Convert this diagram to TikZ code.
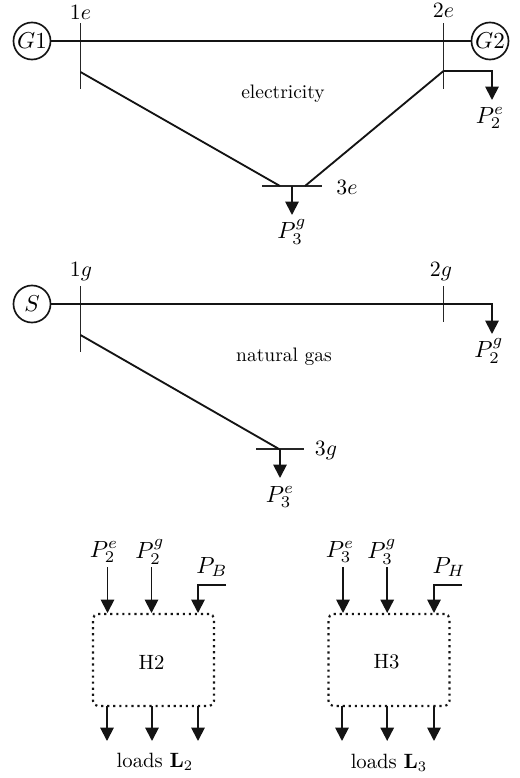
\documentclass[tikz,border=0pt]{standalone}
\usetikzlibrary{arrows.meta}
\tikzset{
  line/.style={line width=0.95pt,draw=black!92},
  busbar/.style={line width=0.9pt,draw=black!85},
  flow/.style={line width=0.95pt,draw=black!92,-{Triangle[width=6.8pt,length=6.8pt]}},
  src/.style={circle,draw=black!92,line width=0.85pt,minimum size=19pt,inner sep=0pt},
  srctext/.style={inner sep=0pt,scale=1.18},
  hub/.style={draw=black!92,line width=1.1pt,dotted,rounded corners=2.5pt,minimum width=62pt,minimum height=47.2pt,inner sep=0pt},
  lbl/.style={inner sep=0pt,scale=1.2},
  bus label/.style={inner sep=0pt,scale=1.12},
  txt/.style={inner sep=0pt,scale=1.06}
}
\begin{document}
\begin{tikzpicture}[x=0.5128pt,y=-0.5128pt]
\useasboundingbox (0,0) rectangle (520,778);
% electricity
\node[src] (G1) at (32,41) {};
\node[srctext] (G1t) at (G1) {$G1$};
\node[src] (G2) at (490,41) {};
\node[srctext] (G2t) at (G2) {$G2$};
\coordinate (b1eT) at (80.5,23); \coordinate (b1eB) at (80.5,89);
\coordinate (b2eT) at (443.5,23); \coordinate (b2eB) at (443.5,89);
\coordinate (b3eL) at (262,186); \coordinate (b3eR) at (322,186);
\coordinate (t1e) at (80.5,72); \coordinate (t2e) at (443.5,71);
\coordinate (t3eL) at (280,186); \coordinate (t3eR) at (305,186);
\coordinate (t3eD) at (292,186); \coordinate (a3e) at (292,215);
\coordinate (c2e) at (492,71); \coordinate (a2e) at (492,100);
\draw[busbar] (b1eT) -- (b1eB);
\draw[busbar] (b2eT) -- (b2eB);
\draw[busbar] (b3eL) -- (b3eR);
\draw[line] (G1) -- (G2);
\draw[line] (t1e) -- (t3eL);
\draw[line] (t2e) -- (t3eR);
\draw[flow] (t2e) -- (c2e) -- (a2e);
\draw[flow] (t3eD) -- (a3e);
\node[bus label] (l1e) at (80.5,12) {$1e$};
\node[bus label] (l2e) at (443.5,10) {$2e$};
\node[bus label] (l3e) at (347,187) {$3e$};
\node[lbl] (lP2e) at (490,118) {$P_2^e$};
\node[lbl] (lP3g) at (292,232) {$P_3^g$};
\node[inner sep=0pt] (elec) at (283,94) {electricity};
% gas
\node[src] (S) at (32,304) {};
\node[srctext] (St) at (S) {$S$};
\coordinate (b1gT) at (80.5,286); \coordinate (b1gB) at (80.5,352);
\coordinate (b2gT) at (443.5,286); \coordinate (b2gB) at (443.5,322);
\coordinate (b3gL) at (256,449); \coordinate (b3gR) at (304,449);
\coordinate (t1g) at (80.5,335); \coordinate (t3g) at (279,449);
\coordinate (t3gD) at (280,449); \coordinate (a3g) at (280,478);
\coordinate (c2g) at (492,304); \coordinate (a2g) at (492,334);
\draw[busbar] (b1gT) -- (b1gB);
\draw[busbar] (b2gT) -- (b2gB);
\draw[busbar] (b3gL) -- (b3gR);
\draw[flow] (S) -- (c2g) -- (a2g);
\draw[line] (t1g) -- (t3g);
\draw[flow] (t3gD) -- (a3g);
\node[bus label] (l1g) at (81,272) {$1g$};
\node[bus label] (l2g) at (441,272) {$2g$};
\node[bus label] (l3g) at (326,451) {$3g$};
\node[lbl] (lP2g) at (489,351) {$P_2^g$};
\node[lbl] (lP3e) at (280,497) {$P_3^e$};
\node[inner sep=0pt] (gas) at (284,357) {natural gas};
% hubs
\node[hub] (H2) at (153.5,660) {};
\node[txt] (H2t) at (151.5,662) {H2};
\node[hub] (H3) at (389,660) {};
\node[txt] (H3t) at (386.5,662) {H3};
\coordinate (i2a) at (107.5,567); \coordinate (i2aE) at (107.5,613);
\coordinate (i2b) at (151.5,567); \coordinate (i2bE) at (151.5,613);
\coordinate (i2c) at (226,585); \coordinate (i2cK) at (198,585); \coordinate (i2cE) at (198,613);
\coordinate (o2a) at (107,706); \coordinate (o2aE) at (107,741);
\coordinate (o2b) at (152,706); \coordinate (o2bE) at (152,741);
\coordinate (o2c) at (198,706); \coordinate (o2cE) at (198,741);
\draw[flow] (i2a) -- (i2aE);
\draw[flow] (i2b) -- (i2bE);
\draw[flow] (i2c) -- (i2cK) -- (i2cE);
\draw[flow] (o2a) -- (o2aE);
\draw[flow] (o2b) -- (o2bE);
\draw[flow] (o2c) -- (o2cE);
\node[lbl] (lh2a) at (104,552) {$P_2^e$};
\node[lbl] (lh2b) at (150,552) {$P_2^g$};
\node[lbl] (lh2c) at (212,567) {$P_B$};
\node[txt] (lh2d) at (155,762) {loads $\mathbf{L}_2$};
\coordinate (i3a) at (343,567); \coordinate (i3aE) at (343,613);
\coordinate (i3b) at (387.2,567); \coordinate (i3bE) at (387.2,613);
\coordinate (i3c) at (462,585); \coordinate (i3cK) at (434,585); \coordinate (i3cE) at (434,613);
\coordinate (o3a) at (342,706); \coordinate (o3aE) at (342,741);
\coordinate (o3b) at (387.2,706); \coordinate (o3bE) at (387.2,741);
\coordinate (o3c) at (434,706); \coordinate (o3cE) at (434,741);
\draw[flow] (i3a) -- (i3aE);
\draw[flow] (i3b) -- (i3bE);
\draw[flow] (i3c) -- (i3cK) -- (i3cE);
\draw[flow] (o3a) -- (o3aE);
\draw[flow] (o3b) -- (o3bE);
\draw[flow] (o3c) -- (o3cE);
\node[lbl] (lh3a) at (340,552) {$P_3^e$};
\node[lbl] (lh3b) at (382,552) {$P_3^g$};
\node[lbl] (lh3c) at (449,567) {$P_H$};
\node[txt] (lh3d) at (389,763) {loads $\mathbf{L}_3$};
\end{tikzpicture}
\end{document}
